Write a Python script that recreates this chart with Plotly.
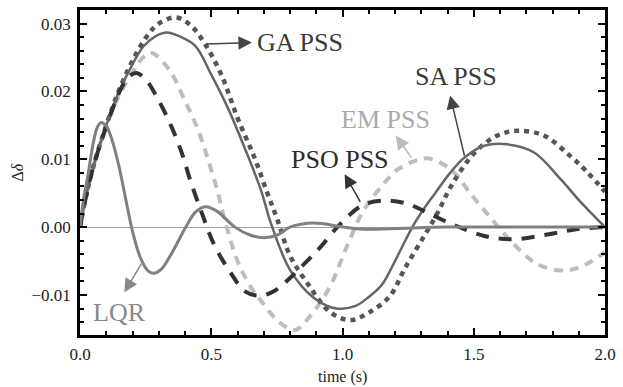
import plotly.graph_objects as go

# ---- data ----
lqr_t = [0, 0.015, 0.03, 0.05, 0.065, 0.08, 0.1, 0.12, 0.15, 0.18, 0.2, 0.23, 0.26, 0.282, 0.31, 0.35,
         0.4, 0.44, 0.476, 0.52, 0.59, 0.65, 0.7, 0.75, 0.8, 0.89, 0.99, 1.08, 1.2, 1.4, 1.6, 1.8, 2.0]
lqr_v = [0, 0.0045, 0.0076, 0.0123, 0.0146, 0.0154, 0.0149, 0.0131, 0.0087, 0.0030, -0.0006, -0.0045,
         -0.0065, -0.0068, -0.0062, -0.0038, -0.0002, 0.0022, 0.0030, 0.0024, 0.0, -0.0012, -0.00155,
         -0.0012, 0.0, 0.0006, 0.0001, -0.0003, -0.0002, 0.0, 0.0, 0.0, 0.0]

pso_t = [0, 0.02, 0.05, 0.1, 0.13, 0.16, 0.19, 0.215, 0.25, 0.288, 0.345, 0.389, 0.42, 0.464, 0.51,
         0.57, 0.63, 0.69, 0.745, 0.8, 0.86, 0.915, 0.99, 1.08, 1.17, 1.25, 1.32, 1.42, 1.54, 1.65, 1.78,
         1.89, 2.0]
pso_v = [0, 0.004, 0.0088, 0.0148, 0.018, 0.0207, 0.0223, 0.0227, 0.0218, 0.0195, 0.0151, 0.0108,
         0.0069, 0.0021, -0.0025, -0.0065, -0.0095, -0.0101, -0.0093, -0.0075, -0.0052, -0.003, 0.0004,
         0.0033, 0.0039, 0.0034, 0.0022, 0.0004, -0.0013, -0.0018, -0.0011, -0.0003, 0.0]

em_t = [0, 0.02, 0.05, 0.1, 0.15, 0.2, 0.235, 0.27, 0.338, 0.401, 0.451, 0.489, 0.526, 0.551, 0.6,
        0.65, 0.69, 0.74, 0.78, 0.82, 0.877, 0.952, 1.015, 1.078, 1.153, 1.21, 1.278, 1.33, 1.416, 1.49,
        1.566, 1.64, 1.74, 1.83, 1.905, 2.0]
em_v = [0, 0.004, 0.0088, 0.015, 0.0195, 0.0228, 0.0248, 0.0257, 0.0233, 0.0185, 0.0142, 0.0098, 0.005,
        0.0011, -0.005, -0.0088, -0.0109, -0.0133, -0.0146, -0.0152, -0.0131, -0.0088, -0.003, 0.0023,
        0.0062, 0.0085, 0.0098, 0.0101, 0.0084, 0.0048, 0.0013, -0.002, -0.0054, -0.0064, -0.0059, -0.0037]

ga_t = [0, 0.02, 0.05, 0.1, 0.15, 0.2, 0.256, 0.3, 0.365, 0.42, 0.476, 0.539, 0.60, 0.664, 0.714, 0.752,
        0.8, 0.865, 0.952, 1.03, 1.1, 1.18, 1.24, 1.316, 1.365, 1.416, 1.504, 1.59, 1.667, 1.767, 1.867,
        1.93, 2.0]
ga_v = [0, 0.004, 0.0088, 0.015, 0.0203, 0.0245, 0.0282, 0.0300, 0.0309, 0.0298, 0.027, 0.0224, 0.0161,
        0.0103, 0.005, 0.0011, -0.0042, -0.0082, -0.0125, -0.0137, -0.0126, -0.0102, -0.0059, -0.001,
        0.0023, 0.0062, 0.011, 0.0135, 0.0142, 0.0135, 0.0105, 0.0082, 0.0052]

sa_t = [0, 0.02, 0.05, 0.1, 0.15, 0.2, 0.243, 0.29, 0.332, 0.38, 0.439, 0.501, 0.564, 0.627, 0.689,
        0.727, 0.8, 0.89, 0.977, 1.05, 1.10, 1.15, 1.2, 1.266, 1.31, 1.353, 1.41, 1.466, 1.54, 1.628, 1.73,
        1.83, 1.905, 2.0]
sa_v = [0, 0.004, 0.0088, 0.015, 0.0201, 0.024, 0.0267, 0.0282, 0.0287, 0.0281, 0.0267, 0.0224, 0.0175,
        0.0117, 0.0055, 0.0006, -0.0063, -0.0104, -0.0120, -0.0116, -0.0103, -0.0085, -0.0050, 0.0,
        0.0027, 0.0050, 0.0080, 0.0103, 0.0120, 0.0122, 0.011, 0.0071, 0.0038, 0.0]

x_ticks = [0.0, 0.5, 1.0, 1.5, 2.0]
y_ticks = [-0.01, 0.0, 0.01, 0.02, 0.03]

FONT = "'Liberation Serif', 'Times New Roman', serif"

fig = go.Figure()
fig.add_trace(go.Scatter(x=em_t, y=em_v, mode="lines", name="EM PSS",
                         line=dict(color="#bdbdbd", width=4, dash="9px,7px", shape="spline")))
fig.add_trace(go.Scatter(x=ga_t, y=ga_v, mode="lines", name="GA PSS",
                         line=dict(color="#555555", width=4.5, dash="5px,5px", shape="spline")))
fig.add_trace(go.Scatter(x=sa_t, y=sa_v, mode="lines", name="SA PSS",
                         line=dict(color="#666666", width=2.5, shape="spline")))
fig.add_trace(go.Scatter(x=pso_t, y=pso_v, mode="lines", name="PSO PSS",
                         line=dict(color="#333333", width=4, dash="13px,10px", shape="spline")))
fig.add_trace(go.Scatter(x=lqr_t, y=lqr_v, mode="lines", name="LQR",
                         line=dict(color="#808080", width=3, shape="spline")))

labels = [
    # text, x, y, color
    ("GA PSS", 0.838, 0.0272, "#3a3a3a"),
    ("SA PSS", 1.432, 0.0222, "#3a3a3a"),
    ("EM PSS", 1.165, 0.0158, "#aaaaaa"),
    ("PSO PSS", 0.990, 0.0100, "#2a2a2a"),
    ("LQR", 0.150, -0.0126, "#888888"),
]
for txt, x, y, c in labels:
    fig.add_annotation(x=x, y=y, text=txt, showarrow=False, xref="x", yref="y",
                       font=dict(family=FONT, size=26, color=c))

arrows = [
    # head x, head y, tail x, tail y, color
    (0.655, 0.0272, 0.476, 0.0270, "#444444"),
    (1.410, 0.0194, 1.466, 0.0103, "#444444"),
    (1.203, 0.0135, 1.267, 0.0100, "#bbbbbb"),
    (1.008, 0.0078, 1.071, 0.0035, "#333333"),
    (0.169, -0.0096, 0.237, -0.0052, "#888888"),
]
for hx, hy, tx, ty, c in arrows:
    fig.add_annotation(x=hx, y=hy, ax=tx, ay=ty, xref="x", yref="y", axref="x", ayref="y",
                       text="", showarrow=True, arrowhead=2, arrowsize=1.8, arrowwidth=1.5,
                       arrowcolor=c)

fig.add_annotation(x=0, y=0.5, xref="paper", yref="paper", text="Δ<i>δ</i>", showarrow=False,
                   textangle=-90, xanchor="center", yanchor="middle", xshift=-63,
                   font=dict(family=FONT, size=16, color="#222222"))
fig.add_annotation(x=0.5, y=0, xref="paper", yref="paper", text="time (s)", showarrow=False,
                   xanchor="center", yanchor="middle", yshift=-42,
                   font=dict(family=FONT, size=16, color="#222222"))

fig.update_layout(
    width=623, height=387,
    margin=dict(l=80, r=11, t=7, b=52),
    paper_bgcolor="white", plot_bgcolor="white",
    showlegend=False,
    font=dict(family=FONT, size=17, color="#222222"),
)
fig.update_xaxes(range=[0, 2], tickvals=x_ticks, tickformat=".1f",
                 ticks="inside", ticklen=7, tickwidth=2, tickcolor="black",
                 minor=dict(dtick=0.1, ticks="inside", ticklen=4, tickwidth=1.5, tickcolor="black"),
                 showline=True, linewidth=2.5, linecolor="black", mirror="allticks",
                 showgrid=False, zeroline=False, ticklabelstandoff=2)
fig.update_yaxes(range=[-0.0159, 0.032], tickvals=y_ticks, tickformat=".2f",
                 ticks="inside", ticklen=7, tickwidth=2, tickcolor="black",
                 minor=dict(dtick=0.002, ticks="inside", ticklen=4, tickwidth=1.5, tickcolor="black"),
                 showline=True, linewidth=2.5, linecolor="black", mirror="allticks",
                 showgrid=False, zeroline=True, zerolinecolor="#a0a0a0", zerolinewidth=1,
                 ticklabelstandoff=3)

fig.write_html("out.html", config={"displayModeBar": False},
               post_script="document.body.style.margin='0';")
